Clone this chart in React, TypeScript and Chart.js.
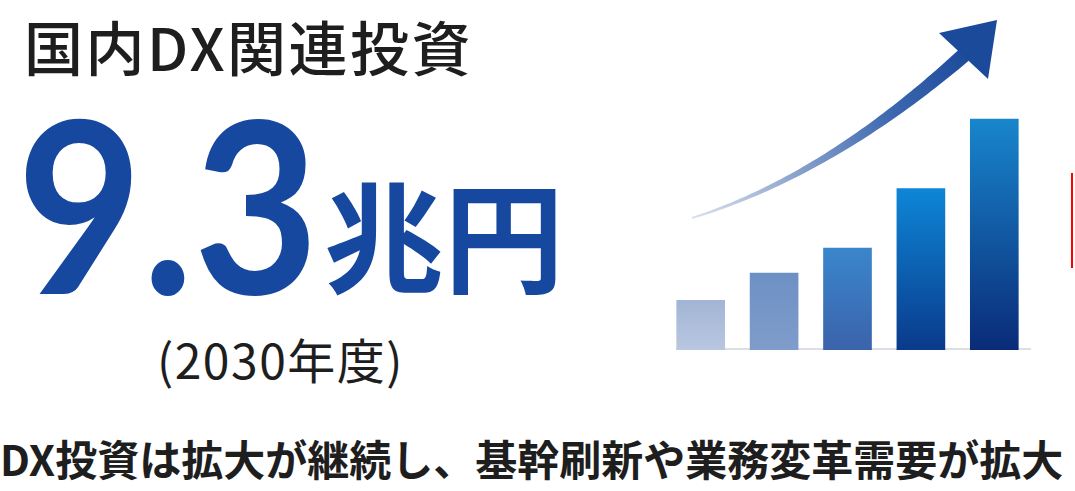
import React, { useEffect, useRef } from "react";
import { Chart, registerables } from "chart.js";

Chart.register(...registerables);

// ---- data ----
const categories = ["1", "2", "3", "4", "5"];
const values = [2.0, 3.1, 4.1, 6.5, 9.3];
const barTopColors = ["#a2b5d6", "#6d90c3", "#3a86cc", "#0e86d6", "#1886cc"];
const barBottomColors = ["#b9c7e0", "#7f9dcb", "#3b63aa", "#0a3a8b", "#0a2b78"];
const titleText = "国内DX関連投資";
const headlineValue = "9.3";
const headlineUnit = "兆円";
const yearLabel = "(2030年度)";
const captionText = "DX投資は拡大が継続し、基幹刷新や業務変革需要が拡大";

const JP = '"Noto Sans CJK JP", "Noto Sans", sans-serif';

const decorPlugin = {
  id: "decor",
  beforeDatasetsDraw(chart: any) {
    const { ctx, chartArea } = chart;
    ctx.save();
    ctx.strokeStyle = "rgba(205,210,220,0.7)";
    ctx.lineWidth = 2;
    ctx.beginPath();
    ctx.moveTo(chartArea.left + 12, chartArea.bottom - 1);
    ctx.lineTo(chartArea.right, chartArea.bottom - 1);
    ctx.stroke();
    ctx.restore();
  },
  afterDatasetsDraw(chart: any) {
    const { ctx, chartArea } = chart;
    const L = chartArea.left;
    const B = chartArea.bottom;
    // curved arrow (decoration), relative to chart area
    const p0 = { x: L + 28, y: B - 132 };
    const p1 = { x: L + 163, y: B - 174 };
    const p2 = { x: L + 300, y: B - 295 };
    const N = 60;
    const left: { x: number; y: number }[] = [];
    const right: { x: number; y: number }[] = [];
    for (let i = 0; i <= N; i++) {
      const t = i / N;
      const x = (1 - t) * (1 - t) * p0.x + 2 * (1 - t) * t * p1.x + t * t * p2.x;
      const y = (1 - t) * (1 - t) * p0.y + 2 * (1 - t) * t * p1.y + t * t * p2.y;
      const dx = 2 * (1 - t) * (p1.x - p0.x) + 2 * t * (p2.x - p1.x);
      const dy = 2 * (1 - t) * (p1.y - p0.y) + 2 * t * (p2.y - p1.y);
      const len = Math.hypot(dx, dy);
      const nx = -dy / len;
      const ny = dx / len;
      const w = (2 + 13 * Math.pow(t, 1.3)) / 2;
      left.push({ x: x + nx * w, y: y + ny * w });
      right.push({ x: x - nx * w, y: y - ny * w });
    }
    const grad = ctx.createLinearGradient(p0.x, p0.y, p2.x, p2.y);
    grad.addColorStop(0, "rgba(215,222,235,0.9)");
    grad.addColorStop(0.35, "#8aa3cc");
    grad.addColorStop(0.7, "#3e68b0");
    grad.addColorStop(1, "#1d4c9c");
    ctx.save();
    ctx.fillStyle = grad;
    ctx.beginPath();
    ctx.moveTo(left[0].x, left[0].y);
    for (const p of left) ctx.lineTo(p.x, p.y);
    for (let i = right.length - 1; i >= 0; i--) ctx.lineTo(right[i].x, right[i].y);
    ctx.closePath();
    ctx.fill();
    // head
    ctx.fillStyle = "#1b4a9a";
    ctx.beginPath();
    ctx.moveTo(L + 333, B - 330);
    ctx.lineTo(L + 275, B - 317);
    ctx.lineTo(L + 324, B - 271);
    ctx.closePath();
    ctx.fill();
    ctx.restore();
  },
};

function BarChart() {
  const ref = useRef<HTMLCanvasElement | null>(null);
  useEffect(() => {
    if (!ref.current) return;
    const chart = new Chart(ref.current, {
      type: "bar",
      data: {
        labels: categories,
        datasets: [
          {
            data: values,
            barThickness: 48,
            borderWidth: 0,
            backgroundColor: (c: any) => {
              const ch = c.chart;
              const i = c.dataIndex ?? 0;
              const ys = ch.scales && ch.scales.y;
              if (!ys || !ch.chartArea) return barTopColors[i];
              const top = ys.getPixelForValue(values[i]);
              const bottom = ys.getPixelForValue(0);
              const g = ch.ctx.createLinearGradient(0, top, 0, bottom);
              g.addColorStop(0, barTopColors[i]);
              g.addColorStop(1, barBottomColors[i]);
              return g;
            },
          },
        ],
      },
      options: {
        animation: false,
        responsive: false,
        maintainAspectRatio: false,
        layout: { padding: 0 },
        plugins: { legend: { display: false }, tooltip: { enabled: false }, title: { display: false } },
        scales: {
          x: { display: false, grid: { display: false } },
          y: { display: false, min: 0, max: 14.09 },
        },
      },
      plugins: [decorPlugin],
    });
    return () => chart.destroy();
  }, []);
  return (
    <canvas
      ref={ref}
      width={367}
      height={350}
      style={{ position: "absolute", left: 664, top: 0, width: 367, height: 350 }}
    />
  );
}

export default function App() {
  return (
    <div
      style={{
        position: "absolute",
        left: 0,
        top: 0,
        width: 1075,
        height: 491,
        background: "#ffffff",
        overflow: "hidden",
      }}
    >
      <div
        style={{
          position: "absolute",
          left: 24,
          top: 16,
          fontFamily: JP,
          fontSize: 59,
          fontWeight: 500,
          lineHeight: 1,
          color: "#1e1e1e",
          whiteSpace: "nowrap",
          letterSpacing: 2.5,
        }}
      >
        {titleText}
      </div>
      <div
        style={{
          position: "absolute",
          left: 17,
          top: 81,
          fontFamily: 'Lato, "Noto Sans", sans-serif',
          fontSize: 240,
          fontWeight: 700,
          lineHeight: 1,
          color: "#16489f",
          whiteSpace: "nowrap",
          letterSpacing: 0,
          transform: "scaleX(0.9)",
          transformOrigin: "0 0",
        }}
      >
        {headlineValue}
      </div>
      <div
        style={{
          position: "absolute",
          left: 324,
          top: 172,
          fontFamily: JP,
          fontSize: 120,
          fontWeight: 700,
          lineHeight: 1,
          color: "#16489f",
          whiteSpace: "nowrap",
        }}
      >
        {headlineUnit}
      </div>
      <div
        style={{
          position: "absolute",
          left: 157,
          top: 334,
          fontFamily: JP,
          fontSize: 48,
          fontWeight: 400,
          lineHeight: 1,
          color: "#1e1e1e",
          whiteSpace: "nowrap",
          letterSpacing: 1.5,
        }}
      >
        {yearLabel}
      </div>
      <div
        style={{
          position: "absolute",
          left: 0,
          top: 437,
          fontFamily: JP,
          fontSize: 42,
          fontWeight: 700,
          lineHeight: 1,
          color: "#1e1e1e",
          whiteSpace: "nowrap",
        }}
      >
        {captionText}
      </div>
      <div style={{ position: "absolute", left: 1071, top: 173, width: 2, height: 95, background: "#ff0000" }} />
      <BarChart />
    </div>
  );
}
